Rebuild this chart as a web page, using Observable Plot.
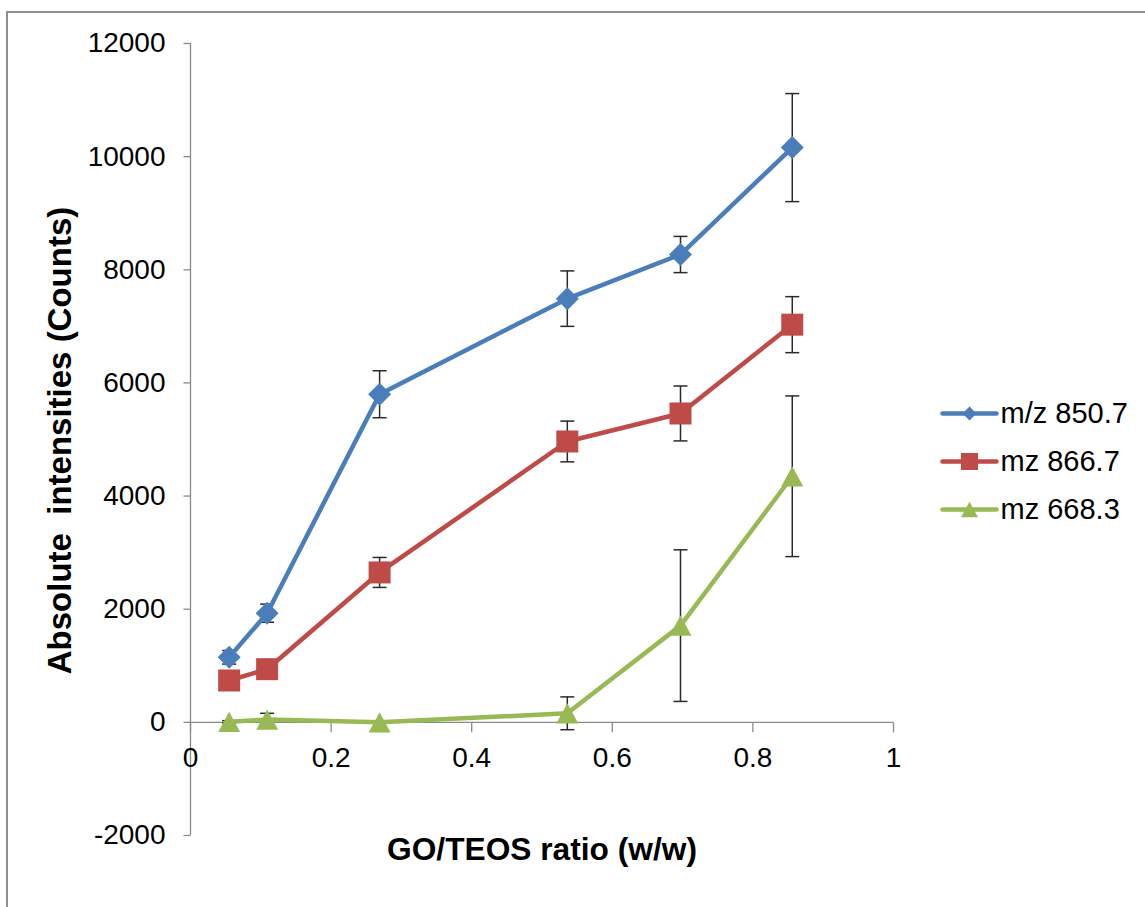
<!DOCTYPE html>
<html><head><meta charset="utf-8">
<script src="https://cdn.jsdelivr.net/npm/d3@7"></script>
<script src="https://cdn.jsdelivr.net/npm/@observablehq/plot@0.6"></script>
<style>
html,body{margin:0;padding:0;background:#fff;}
#wrap{position:relative;width:1145px;height:907px;overflow:hidden;background:#fff;font-family:"Liberation Sans",Arial,sans-serif;}
#frame{position:absolute;left:6px;top:11px;width:1200px;height:1000px;border:2px solid #8e8e8e;box-sizing:border-box;}
#chart{position:absolute;left:0;top:0;}
#legend{position:absolute;left:930px;top:387px;}
</style></head><body>
<div id="wrap"><div id="frame"></div><div id="chart"></div><div id="legend"></div></div>
<script>
// ---- data ----
const ratios = [0.055, 0.109, 0.269, 0.536, 0.697, 0.856];
const seriesNames = ["m/z 850.7", "mz 866.7", "mz 668.3"];
const seriesColors = ["#4A7EBB", "#BE4B48", "#98B954"];
const mz8507 = [1150, 1930, 5800, 7490, 8270, 10160];
const mz8507Err = [120, 160, 415, 490, 320, 955];
const mz8667 = [740, 940, 2650, 4965, 5460, 7030];
const mz8667Err = [90, 90, 265, 360, 485, 495];
const mz6683 = [10, 50, 0, 160, 1710, 4350];
const mz6683Err = [20, 110, 20, 290, 1340, 1420];
const xTicks = [0, 0.2, 0.4, 0.6, 0.8, 1];
const xTickLabels = ["0", "0.2", "0.4", "0.6", "0.8", "1"];
const yTicks = [-2000, 0, 2000, 4000, 6000, 8000, 10000, 12000];
const yTickLabels = ["-2000", "0", "2000", "4000", "6000", "8000", "10000", "12000"];
const xTitle = "GO/TEOS ratio (w/w)";
const yTitle = "Absolute\u00a0 intensities (Counts)";

const seriesValues = [mz8507, mz8667, mz6683];
const seriesErrs = [mz8507Err, mz8667Err, mz6683Err];
const rows = [];
seriesNames.forEach((s, k) => ratios.forEach((x, i) => rows.push({
  series: s, x, y: seriesValues[k][i], lo: seriesValues[k][i] - seriesErrs[k][i], hi: seriesValues[k][i] + seriesErrs[k][i]
})));
const bySeries = s => rows.filter(d => d.series === s);

// ---- symbols ----
const rad = size => Math.sqrt(size / Math.PI);
const diamondSym = {draw(c, size) {const r = rad(size); c.moveTo(0, -r); c.lineTo(r, 0); c.lineTo(0, r); c.lineTo(-r, 0); c.closePath();}};
const squareSym = {draw(c, size) {const r = rad(size); c.rect(-r, -r, 2 * r, 2 * r);}};
const triSym = {draw(c, size) {const r = rad(size); const h = 0.92 * r; c.moveTo(0, -h); c.lineTo(r, h); c.lineTo(-r, h); c.closePath();}};
const capSym = {draw(c, size) {const r = rad(size); c.moveTo(-r, 0); c.lineTo(r, 0);}};
const downTick = {draw(c, size) {const r = rad(size); c.moveTo(0, 0); c.lineTo(0, r);}};
const leftTick = {draw(c, size) {const r = rad(size); c.moveTo(0, 0); c.lineTo(-r, 0);}};
const symbols = [diamondSym, squareSym, triSym];
const markerR = [11.5, 11, 11];

const axisGray = "#8a8a8a";
const errColor = "#2a2a2a";

const chart = Plot.plot({
  width: 1145, height: 907,
  marginLeft: 190, marginRight: 252, marginTop: 43, marginBottom: 72,
  x: {domain: [0, 1], axis: null},
  y: {domain: [-2000, 12000], axis: null},
  color: {domain: seriesNames, range: seriesColors},
  style: {fontFamily: '"Liberation Sans", Arial, sans-serif', background: "transparent", color: "#000", overflow: "visible"},
  marks: [
    Plot.ruleX([0], {stroke: axisGray, strokeWidth: 1.3}),
    Plot.ruleY([0], {stroke: axisGray, strokeWidth: 1.3}),
    Plot.dot(xTicks, {x: d => d, y: 0, symbol: downTick, r: 10, stroke: axisGray, strokeWidth: 1.3, fill: "none"}),
    Plot.dot(yTicks, {x: 0, y: d => d, symbol: leftTick, r: 7, stroke: axisGray, strokeWidth: 1.3, fill: "none"}),
    Plot.text(xTicks, {x: d => d, y: 0, dy: 36, text: (d, i) => xTickLabels[i], fontSize: 28, fill: "#000"}),
    Plot.text(yTicks, {x: 0, y: d => d, dx: -25, textAnchor: "end", text: (d, i) => yTickLabels[i], fontSize: 28, fill: "#000"}),
    Plot.text([xTitle], {frameAnchor: "bottom", dy: 24, text: d => d, fontSize: 31.7, fontWeight: "bold", fill: "#000"}),
    Plot.text([yTitle], {frameAnchor: "left", textAnchor: "middle", dx: -130, dy: 1, rotate: -90, text: d => d, fontSize: 33, fontWeight: "bold", fill: "#000"}),
    Plot.ruleX(rows, {x: "x", y1: "lo", y2: "hi", stroke: errColor, strokeWidth: 1.5}),
    Plot.dot(rows, {x: "x", y: "hi", symbol: capSym, r: 7, stroke: errColor, strokeWidth: 1.5, fill: "none"}),
    Plot.dot(rows, {x: "x", y: "lo", symbol: capSym, r: 7, stroke: errColor, strokeWidth: 1.5, fill: "none"}),
    ...seriesNames.map((s, k) => Plot.line(bySeries(s), {x: "x", y: "y", stroke: seriesColors[k], strokeWidth: 4.5, strokeLinejoin: "round", strokeLinecap: "round"})),
    ...seriesNames.map((s, k) => Plot.dot(bySeries(s), {x: "x", y: "y", symbol: symbols[k], r: markerR[k], fill: seriesColors[k], stroke: "none"}))
  ]
});
document.getElementById("chart").appendChild(chart);

const legendR = [7, 8.5, 8.5];
const legend = Plot.plot({
  width: 215, height: 150,
  marginLeft: 12, marginRight: 149, marginTop: 25, marginBottom: 28,
  x: {domain: [0, 1], axis: null},
  y: {type: "point", domain: seriesNames, padding: 0, axis: null},
  style: {fontFamily: '"Liberation Sans", Arial, sans-serif', background: "transparent", color: "#000", overflow: "visible"},
  marks: [
    ...seriesNames.map((s, k) => Plot.link([s], {x1: 0, x2: 1, y1: d => d, y2: d => d, stroke: seriesColors[k], strokeWidth: 4.5, strokeLinecap: "round"})),
    ...seriesNames.map((s, k) => Plot.dot([s], {x: 0.5, y: d => d, symbol: symbols[k], r: legendR[k], fill: seriesColors[k], stroke: "none"})),
    Plot.text(seriesNames, {x: 1, y: d => d, dx: 4, textAnchor: "start", text: d => d, fontSize: 29, fill: "#000"})
  ]
});
document.getElementById("legend").appendChild(legend);
</script>
</body></html>
